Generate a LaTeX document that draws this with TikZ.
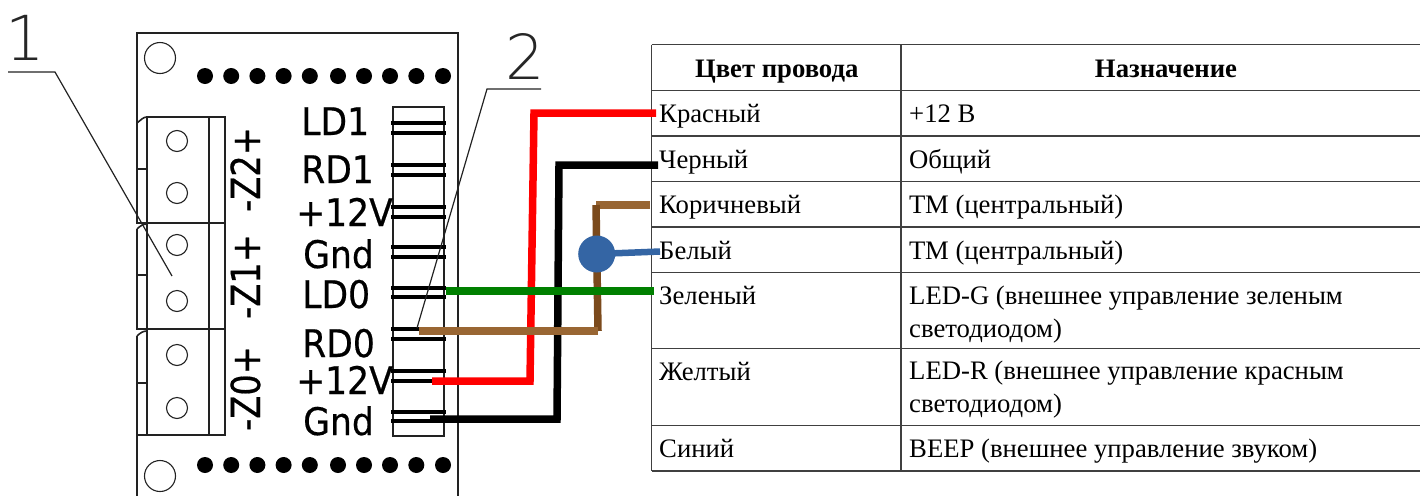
\documentclass[tikz,border=0pt]{standalone}
\usepackage{fontspec}
\setmainfont{Liberation Serif}
\newfontfamily\boardfont[FakeStretch=0.91,FakeBold=0.5]{DejaVu Sans}
\newfontfamily\zfont[FakeStretch=0.84,FakeBold=0.5]{DejaVu Sans}
\newfontfamily\calloutfont{DejaVu Sans ExtraLight}
\definecolor{wirered}{HTML}{FF0000}
\definecolor{wirebrownA}{HTML}{996633}
\definecolor{wirebrownB}{HTML}{7B4A1C}
\definecolor{wiregreen}{HTML}{008000}
\definecolor{wireblue}{HTML}{3465A4}
\definecolor{rulegray}{HTML}{404040}
\definecolor{boardink}{HTML}{222222}
\tikzset{
  cell/.style={anchor=base west,inner sep=0pt,align=left,font=\fontsize{26.7}{33}\selectfont,text=black},
  headcell/.style={anchor=base,inner sep=0pt,font=\fontsize{26.7}{33}\selectfont\bfseries,text=black},
  tablerule/.style={draw=rulegray,line width=1.1pt},
  boardline/.style={draw=boardink,line width=1.6pt},
  thinlead/.style={draw=boardink,line width=1.2pt},
  padhole/.style={draw=boardink,line width=1.1pt},
  pinbar/.style={draw=black,line width=4.8pt},
  via/.style={fill=black,draw=none},
  pinlabel/.style={anchor=base west,inner sep=0pt,font=\boardfont\fontsize{38}{38}\selectfont,text=black},
  zlabel/.style={anchor=base west,inner sep=0pt,rotate=90,font=\zfont\fontsize{40}{40}\selectfont,text=black},
  callout/.style={anchor=base,inner sep=0pt,font=\calloutfont\fontsize{62}{62}\selectfont,text=black!85},
  wire/.style={line width=7.5pt,line join=miter}
}
\begin{document}
\begin{tikzpicture}[x=1pt,y=-1pt]
\useasboundingbox (0,0) rectangle (1420,496);
% board outline
\draw[boardline] (137,123) -- (137,33) -- (458,33) -- (458,496);
\draw[boardline] (137,336) -- (137,496);
\draw[boardline] (137,123) .. controls (141,120) and (143,117) .. (147,117);
\draw[boardline] (137,123) -- (137,223) -- (147,223);
\draw[boardline] (137,229) .. controls (140,226) and (143,224) .. (147,224);
\draw[boardline] (137,229) -- (137,329) -- (147,329);
\draw[boardline] (137,336) .. controls (140,333) and (143,331) .. (147,331);
% terminal block
\draw[boardline] (147,117) rectangle (225,435);
\draw[boardline] (209,117) -- (209,435);
\draw[boardline] (147,223) -- (225,223);
\draw[boardline] (147,329) -- (225,329);
\draw[boardline] (137,435) -- (147,435);
\draw[boardline] (137,169) -- (147,169);
\draw[boardline] (137,275) -- (147,275);
\draw[boardline] (137,383) -- (147,383);
\foreach \y in {141,193,245,301,355,408}{\draw[padhole] (177,\y) circle (10.5);}
% mounting holes
\draw[padhole] (160,58) circle (15.5);
\draw[padhole] (160,476) circle (15.5);
% via rows
\foreach \x in {205,231.2,257.4,283.6,309.8,338,364,390,416.3,443}{
  \fill[via] (\x,76) circle (8);
  \fill[via] (\x,465) circle (8);
}
% connector block
\draw[boardline] (393,107) rectangle (444,436);
\foreach \y in {123,133,165,175,207,217,247,257,288,297,329,339,371,381,412,421}{
  \draw[pinbar] (391,\y) -- (446,\y);
}
% board labels
\node[pinlabel] (ld1) at (301,135) {LD1};
\node[pinlabel] (rd1) at (301,183) {RD1};
\node[pinlabel] (v1)  at (296,226) {+12V};
\node[pinlabel] (g1)  at (303,268) {Gnd};
\node[pinlabel] (ld0) at (302,308) {LD0};
\node[pinlabel] (rd0) at (302,357) {RD0};
\node[pinlabel] (v0)  at (296,394) {+12V};
\node[pinlabel] (g0)  at (303,435) {Gnd};
\node[zlabel] (z2) at (260,212) {-Z2+};
\node[zlabel] (z1) at (260,319) {-Z1+};
\node[zlabel] (z0) at (260,431) {-Z0+};
% callouts
\node[callout] (c1) at (25,60) {1};
\node[callout] (c2) at (525,79) {2};
\coordinate (l1a) at (8,72);
\coordinate (l1b) at (55,72);
\coordinate (l1c) at (172,276);
\coordinate (l2a) at (541,89);
\coordinate (l2b) at (487,89);
\coordinate (l2c) at (417,328);
\draw[thinlead] (l1a) -- (l1b) -- (l1c);
\draw[thinlead] (l2a) -- (l2b) -- (l2c);
% table
\foreach \y in {44.7,90.5,136,181.5,227,272.7,348.7,425.3,471}{\draw[tablerule] (651.5,\y) -- (1420,\y);}
\draw[tablerule] (651.5,44.7) -- (651.5,471);
\draw[tablerule] (901,44.7) -- (901,471);
\node[headcell] (h1) at (776.7,77) {Цвет провода};
\node[headcell] (h2) at (1166,77) {Назначение};
\node[cell] (a1) at (659,122) {Красный};
\node[cell] (a2) at (659,168) {Черный};
\node[cell] (a3) at (659,213) {Коричневый};
\node[cell] (a4) at (659,259) {Белый};
\node[cell] (a5) at (659,304) {Зеленый};
\node[cell] (a6) at (659,380) {Желтый};
\node[cell] (a7) at (659,457) {Синий};
\node[cell] (b1) at (909,122) {+12 В};
\node[cell] (b2) at (909,168) {Общий};
\node[cell] (b3) at (909,213) {ТМ (центральный)};
\node[cell] (b4) at (909,259) {ТМ (центральный)};
\node[cell] (b5) at (909,337) {LED-G (внешнее управление зеленым\\светодиодом)};
\node[cell] (b6) at (909,412) {LED-R (внешнее управление красным\\светодиодом)};
\node[cell] (b7) at (909,457) {BEEP (внешнее управление звуком)};
% wires
\coordinate (redT) at (656,113);
\coordinate (redA) at (534,113);
\coordinate (redB) at (530,381);
\coordinate (redP) at (432,381);
\coordinate (blkT) at (658,165);
\coordinate (blkA) at (559,165);
\coordinate (blkB) at (557,419);
\coordinate (blkP) at (430,419);
\coordinate (brnT) at (650,205);
\coordinate (brnA) at (596,205);
\coordinate (brnB) at (598,331);
\coordinate (brnP) at (419,331);
\coordinate (grnP) at (446,291);
\coordinate (grnT) at (654,291);
\coordinate (bluT) at (660,251.5);
\draw[wire,wirered] (redT) -- (redA) -- (redB) -- (redP);
\draw[wire,black] (blkT) -- (blkA) -- (blkB) -- (blkP);
\draw[wire,wirebrownA] (brnT) -- (brnA);
\draw[wire,wirebrownB] (brnA) -- (brnB);
\draw[wire,wirebrownA] (brnB) -- (brnP);
\draw[wire,wiregreen] (grnP) -- (grnT);
\node[circle,fill=wireblue,draw=none,minimum size=37pt,inner sep=0pt] (joint) at (596.7,254) {};
\draw[wire,wireblue,line width=6.5pt] (joint.center) -- (bluT);
\end{tikzpicture}
\end{document}
